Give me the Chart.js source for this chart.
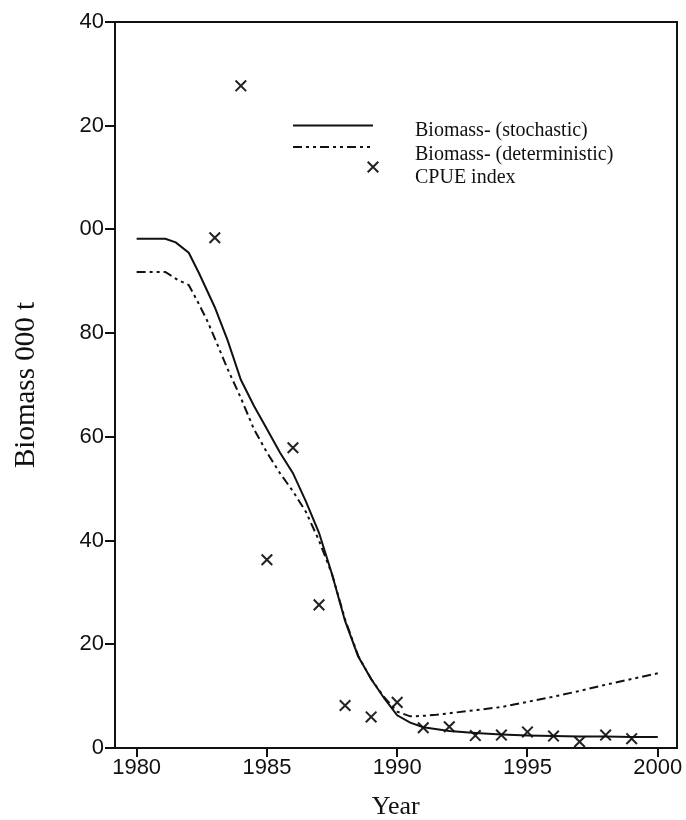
<!DOCTYPE html>
<html>
<head>
<meta charset="utf-8">
<script src="https://cdn.jsdelivr.net/npm/chart.js@4.4.1/dist/chart.umd.min.js"></script>
<style>
  html, body { margin: 0; padding: 0; background: #ffffff; }
  #wrap { width: 686px; height: 820px; }
</style>
</head>
<body>
<div id="wrap"><canvas id="c" width="686" height="820"></canvas></div>
<script>
// ---- data ----
const stochYears = [1980, 1981.1, 1981.5, 1982.0, 1982.4, 1983.0, 1983.5, 1984.0, 1984.5, 1985.0, 1985.5, 1986.0, 1986.5, 1987.0, 1987.5, 1988.0, 1988.5, 1989.0, 1989.5, 1990.0, 1990.5, 1991.0, 1992.0, 1993.0, 1994.0, 1995.0, 1996.0, 1997.0, 1998.0, 1999.0, 2000.0];
const stochBiomass = [98.2, 98.2, 97.5, 95.5, 91.5, 85.0, 78.5, 71.0, 66.0, 61.5, 57.0, 53.0, 47.5, 41.5, 33.5, 24.5, 17.7, 13.3, 9.6, 6.3, 4.9, 4.0, 3.3, 2.9, 2.6, 2.4, 2.3, 2.2, 2.2, 2.1, 2.1];

const detYears = [1980, 1981.1, 1981.6, 1982.0, 1982.35, 1982.7, 1983.0, 1983.5, 1984.0, 1984.5, 1985.0, 1985.5, 1986.0, 1986.5, 1987.0, 1987.5, 1988.0, 1988.5, 1989.0, 1989.5, 1990.0, 1990.5, 1991.0, 1991.5, 1992.0, 1993.0, 1994.0, 1995.0, 1996.0, 1997.0, 1998.0, 1999.0, 2000.0];
const detBiomass = [91.8, 91.8, 90.2, 89.3, 86.0, 82.5, 79.0, 73.0, 67.5, 61.5, 57.0, 53.0, 49.5, 45.5, 40.0, 33.5, 24.8, 17.8, 13.3, 9.8, 7.0, 6.1, 6.2, 6.4, 6.7, 7.3, 7.9, 8.9, 9.9, 11.0, 12.2, 13.3, 14.4];

const cpueYears = [1983, 1984, 1985, 1986, 1987, 1988, 1989, 1990, 1991, 1992, 1993, 1994, 1995, 1996, 1997, 1998, 1999];
const cpueIndex = [98.4, 127.7, 36.3, 57.9, 27.6, 8.2, 6.0, 8.8, 3.9, 4.1, 2.4, 2.5, 3.1, 2.3, 1.2, 2.5, 1.8];

const seriesLabels = ['Biomass- (stochastic)', 'Biomass- (deterministic)', 'CPUE index'];
const xTickValues = [1980, 1985, 1990, 1995, 2000];
const yTickValues = [0, 20, 40, 60, 80, 100, 120, 140];
const yTickLabels = ['0', '20', '40', '60', '80', '00', '20', '40'];
const xTitle = 'Year';
const yTitle = 'Biomass 000 t';

// ---- styles ----
const INK = '#111111';
const detDash = [9, 4, 3, 4, 3, 4];

const toPoints = (xs, ys) => xs.map((x, i) => ({ x: x, y: ys[i] }));

// custom in-plot legend drawn with the datasets' own styles
const innerLegend = {
  id: 'innerLegend',
  afterDatasetsDraw(chart) {
    const ctx = chart.ctx;
    const x0 = 293, x1 = 373, tx = 415;
    const rows = [125.5, 147, 167];
    const textRows = [131, 154.5, 178];
    ctx.save();
    ctx.strokeStyle = INK;
    ctx.lineWidth = 2;
    ctx.setLineDash([]);
    ctx.beginPath(); ctx.moveTo(x0, rows[0]); ctx.lineTo(x1, rows[0]); ctx.stroke();
    ctx.setLineDash(detDash);
    ctx.beginPath(); ctx.moveTo(x0, rows[1]); ctx.lineTo(x1, rows[1]); ctx.stroke();
    ctx.setLineDash([]);
    const ds = chart.data.datasets[2];
    ctx.strokeStyle = '#222222';
    Chart.helpers.drawPoint(ctx, { pointStyle: 'crossRot', radius: ds.pointRadius, borderWidth: ds.pointBorderWidth, rotation: 0 }, x1, rows[2]);
    ctx.fillStyle = INK;
    ctx.font = '20px "Liberation Serif", "Times New Roman", serif';
    ctx.textAlign = 'left';
    ctx.textBaseline = 'middle';
    seriesLabels.forEach((t, i) => ctx.fillText(t, tx, textRows[i]));
    ctx.restore();
  }
};

new Chart(document.getElementById('c'), {
  type: 'line',
  data: {
    datasets: [
      {
        label: seriesLabels[0],
        data: toPoints(stochYears, stochBiomass),
        borderColor: INK, borderWidth: 2, tension: 0,
        pointRadius: 0, fill: false
      },
      {
        label: seriesLabels[1],
        data: toPoints(detYears, detBiomass),
        borderColor: INK, borderWidth: 2, borderDash: detDash, tension: 0,
        pointRadius: 0, fill: false
      },
      {
        label: seriesLabels[2],
        data: toPoints(cpueYears, cpueIndex),
        showLine: false,
        pointStyle: 'crossRot', pointRadius: 7.5, pointBorderWidth: 2,
        pointBorderColor: '#222222', pointBackgroundColor: '#222222',
        borderColor: '#222222'
      }
    ]
  },
  options: {
    responsive: false,
    animation: false,
    devicePixelRatio: 1,
    layout: { padding: { left: 0, right: 8, top: 22, bottom: 0 } },
    plugins: { legend: { display: false }, tooltip: { enabled: false } },
    scales: {
      x: {
        type: 'linear', position: 'bottom',
        min: 1979.17, max: 2000.72,
        afterBuildTicks: s => { s.ticks = xTickValues.map(v => ({ value: v })); },
        afterFit: s => { s.height = 72; },
        ticks: {
          color: INK, padding: 0, maxRotation: 0, autoSkip: false,
          font: { family: '"Liberation Sans", Arial, sans-serif', size: 22, lineHeight: 1 },
          callback: v => String(v)
        },
        grid: { drawOnChartArea: false, drawTicks: true, tickLength: 9, color: INK, lineWidth: 2 },
        border: { display: true, color: INK, width: 2 },
        title: {
          display: true, text: xTitle, color: INK,
          font: { family: '"Liberation Serif", "Times New Roman", serif', size: 26, lineHeight: 1 },
          padding: { top: 0, bottom: 0 }
        }
      },
      y: {
        type: 'linear', position: 'left',
        min: 0, max: 140,
        afterBuildTicks: s => { s.ticks = yTickValues.map(v => ({ value: v })); },
        afterFit: s => { s.width = 115; },
        ticks: {
          color: INK, padding: 1, autoSkip: false,
          font: { family: '"Liberation Sans", Arial, sans-serif', size: 22, lineHeight: 1 },
          callback: (v) => yTickLabels[yTickValues.indexOf(v)]
        },
        grid: { drawOnChartArea: false, drawTicks: true, tickLength: 10, color: INK, lineWidth: 2 },
        border: { display: true, color: INK, width: 2 },
        title: {
          display: true, text: yTitle, color: INK,
          font: { family: '"Liberation Serif", "Times New Roman", serif', size: 29, lineHeight: 1 },
          padding: { top: 12, bottom: 0 }
        }
      },
      xTop: {
        type: 'linear', position: 'top', display: true,
        min: 1979.17, max: 2000.72,
        ticks: { display: false },
        grid: { display: false, drawTicks: false, tickLength: 0 },
        border: { display: true, color: INK, width: 2 }
      },
      yRight: {
        type: 'linear', position: 'right', display: true,
        min: 0, max: 140,
        ticks: { display: false },
        grid: { display: false, drawTicks: false, tickLength: 0 },
        border: { display: true, color: INK, width: 2 }
      }
    }
  },
  plugins: [innerLegend]
});
</script>
</body>
</html>
